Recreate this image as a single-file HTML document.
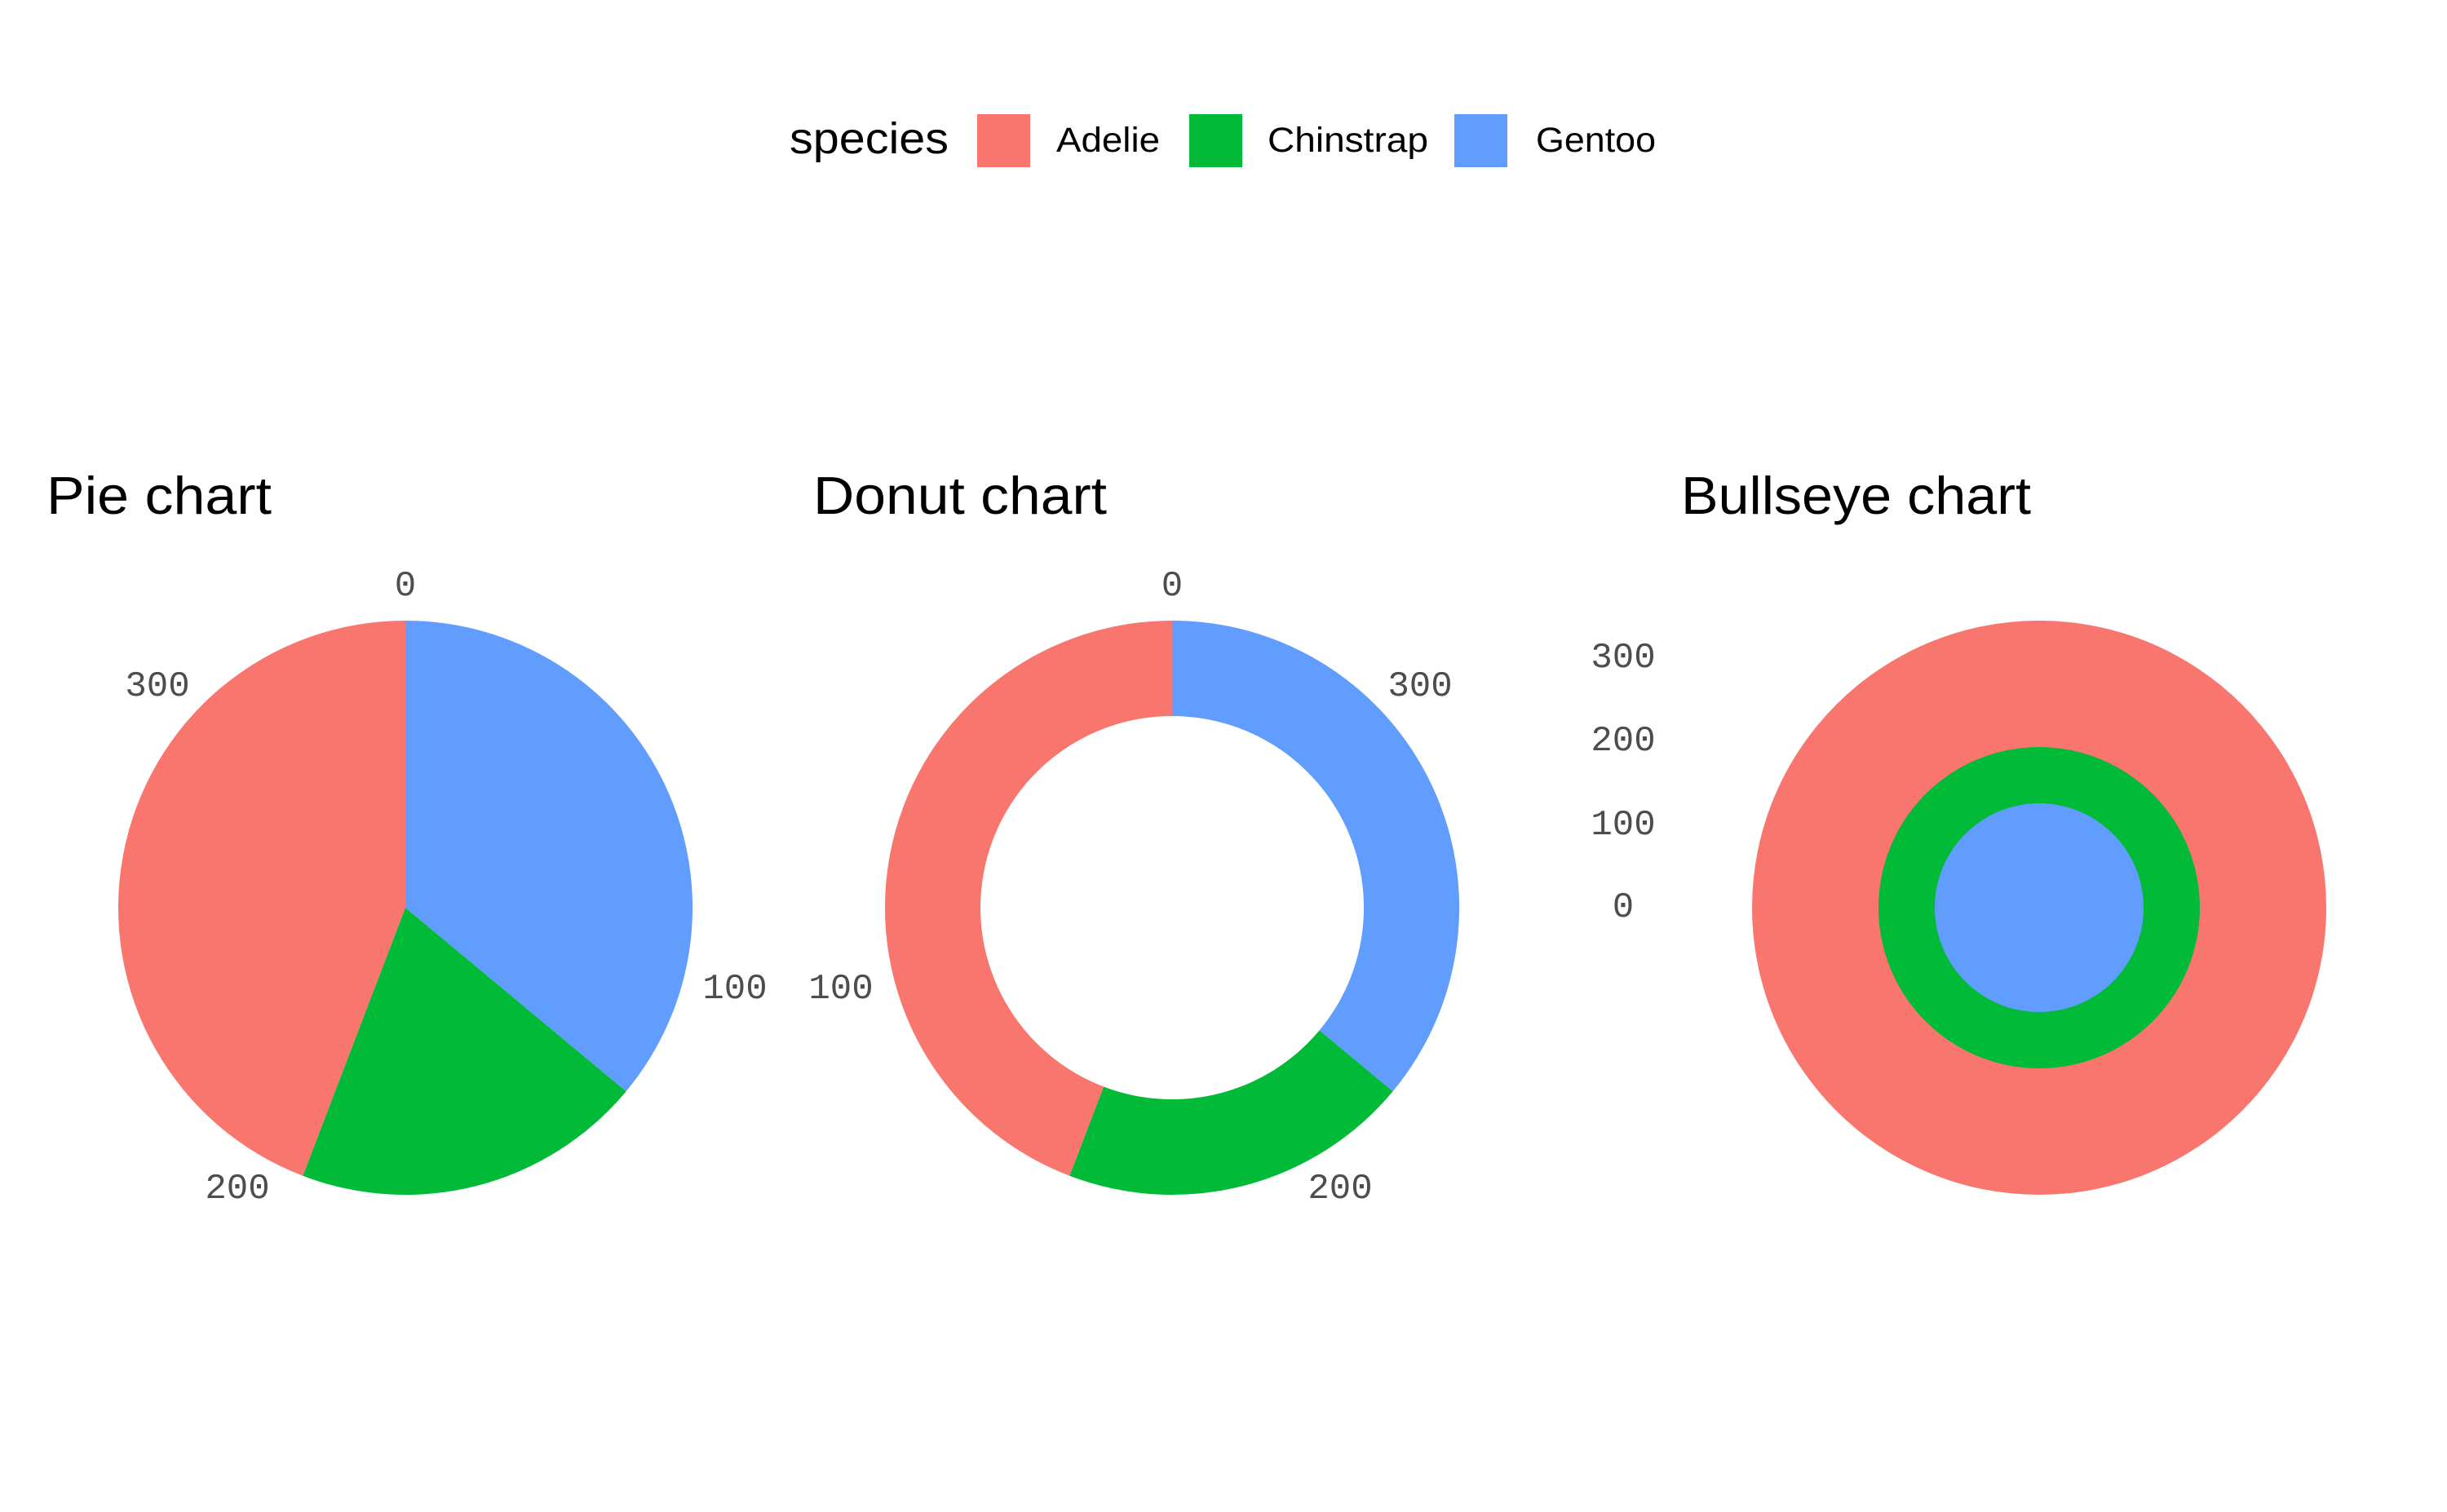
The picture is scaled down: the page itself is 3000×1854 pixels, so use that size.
<!DOCTYPE html>
<html><head><meta charset="utf-8"><style>
html,body{margin:0;padding:0;background:#fff;}
svg{display:block;}
.t{font-family:"Liberation Sans",sans-serif;fill:#000;}
.ax{font-family:"Liberation Mono","DejaVu Sans Mono",monospace;fill:#4d4d4d;font-size:44px;text-anchor:middle;dominant-baseline:central;}
</style></head><body>
<svg width="3000" height="1854" viewBox="0 0 3000 1854" xmlns="http://www.w3.org/2000/svg">
<rect width="3000" height="1854" fill="#fff"/>
<!-- legend -->
<text class="t" x="968" y="188" font-size="54" textLength="195" lengthAdjust="spacingAndGlyphs">species</text>
<rect x="1198" y="140" width="65" height="65" fill="#F8766D"/>
<text class="t" x="1295" y="186" font-size="43" textLength="127" lengthAdjust="spacingAndGlyphs">Adelie</text>
<rect x="1458" y="140" width="65" height="65" fill="#00BA38"/>
<text class="t" x="1554" y="186" font-size="43" textLength="197" lengthAdjust="spacingAndGlyphs">Chinstrap</text>
<rect x="1783" y="140" width="65" height="65" fill="#619CFF"/>
<text class="t" x="1883" y="186" font-size="43" textLength="147" lengthAdjust="spacingAndGlyphs">Gentoo</text>
<!-- titles -->
<text class="t" x="57" y="630" font-size="65" textLength="276" lengthAdjust="spacingAndGlyphs">Pie chart</text>
<text class="t" x="997" y="630" font-size="65" textLength="360" lengthAdjust="spacingAndGlyphs">Donut chart</text>
<text class="t" x="2061" y="630" font-size="65" textLength="429" lengthAdjust="spacingAndGlyphs">Bullseye chart</text>
<!-- pie -->
<path d="M497,1113 L497,761 A352,352 0 0 1 767.6,1338.2 Z" fill="#619CFF"/>
<path d="M497,1113 L767.6,1338.2 A352,352 0 0 1 371.3,1441.8 Z" fill="#00BA38"/>
<path d="M497,1113 L371.3,1441.8 A352,352 0 0 1 497,761 Z" fill="#F8766D"/>
<text class="ax" x="497" y="719">0</text>
<text class="ax" x="901" y="1213">100</text>
<text class="ax" x="291" y="1458">200</text>
<text class="ax" x="193" y="842">300</text>
<!-- donut -->
<path d="M1437,761 A352,352 0 0 1 1707.6,1338.2 L1617.6,1263.4 A235,235 0 0 0 1437,878 Z" fill="#619CFF"/>
<path d="M1707.6,1338.2 A352,352 0 0 1 1311.3,1441.8 L1353.1,1332.5 A235,235 0 0 0 1617.6,1263.4 Z" fill="#00BA38"/>
<path d="M1311.3,1441.8 A352,352 0 0 1 1437,761 L1437,878 A235,235 0 0 0 1353.1,1332.5 Z" fill="#F8766D"/>
<text class="ax" x="1437" y="719">0</text>
<text class="ax" x="1031" y="1213">100</text>
<text class="ax" x="1643" y="1458">200</text>
<text class="ax" x="1741" y="842">300</text>
<!-- bullseye -->
<circle cx="2500" cy="1113" r="352" fill="#F8766D"/>
<circle cx="2500" cy="1113" r="197" fill="#00BA38"/>
<circle cx="2500" cy="1113" r="128" fill="#619CFF"/>
<text class="ax" x="1990" y="807">300</text>
<text class="ax" x="1990" y="909">200</text>
<text class="ax" x="1990" y="1012">100</text>
<text class="ax" x="1990" y="1113">0</text>
</svg>
</body></html>
